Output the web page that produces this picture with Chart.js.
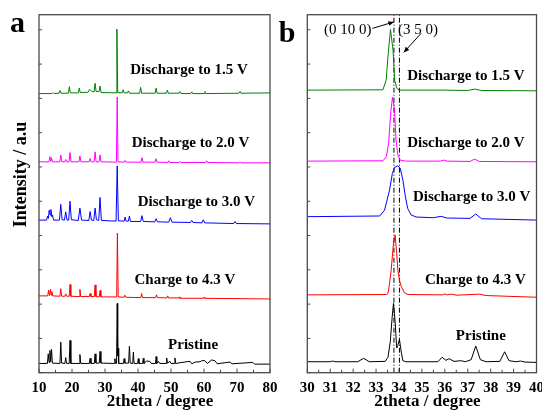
<!DOCTYPE html>
<html><head><meta charset="utf-8">
<script src="https://cdn.jsdelivr.net/npm/chart.js@4"></script>
<style>
html,body{margin:0;padding:0;background:#fff;width:542px;height:411px;overflow:hidden;position:relative}
#ca{position:absolute;left:0;top:0}
#cb{position:absolute;left:270px;top:0}
</style></head><body>
<canvas id="ca" width="290" height="411"></canvas>
<canvas id="cb" width="280" height="411"></canvas>
<script>
// ---------- DATA (2theta in degrees, stacked intensity in a.u.) ----------
const seriesNames = ['Discharge to 1.5 V','Discharge to 2.0 V','Discharge to 3.0 V','Charge to 4.3 V','Pristine'];
const seriesColors = ['#008000','#ff00ff','#0000ff','#ff0000','#000000'];

// Panel a: 10-80 degrees
const xTicksA = [10,20,30,40,50,60,70,80];
const xMinorA = [15,25,35,45,55,65,75];
const greenA = [[10,8.14],[14.0,8.14],[14.3,8.17],[14.6,8.14],[16.1,8.15],[16.4,8.23],[16.7,8.15],[18.9,8.15],[19.2,8.34],[19.5,8.16],[21.9,8.16],[22.2,8.30],[22.5,8.17],[24.9,8.18],[25.3,8.26],[25.6,8.24],[26.0,8.2],[26.7,8.19],[27.0,8.44],[27.3,8.2],[28.2,8.2],[28.5,8.36],[28.8,8.17],[33.35,8.16],[33.6,10.02],[33.85,8.17],[35.2,8.16],[35.5,8.25],[35.8,8.16],[36.8,8.16],[37.1,8.22],[37.4,8.15],[40.5,8.15],[40.8,8.32],[41.1,8.15],[45.2,8.15],[45.5,8.30],[45.8,8.15],[48.6,8.15],[48.9,8.24],[49.2,8.15],[52.4,8.15],[52.7,8.2],[53.0,8.14],[56.0,8.14],[56.3,8.19],[56.6,8.14],[60.0,8.14],[60.3,8.2],[60.6,8.14],[70.6,8.15],[70.9,8.2],[71.2,8.15],[80,8.16]];
const pinkA = [[10,6.15],[13.0,6.15],[13.3,6.30],[13.55,6.16],[13.8,6.27],[14.1,6.15],[16.3,6.15],[16.6,6.35],[16.9,6.15],[17.8,6.15],[18.1,6.22],[18.4,6.15],[19.1,6.15],[19.4,6.42],[19.7,6.15],[22.1,6.15],[22.4,6.32],[22.7,6.15],[25.2,6.15],[25.5,6.25],[25.8,6.15],[26.7,6.15],[27.0,6.44],[27.3,6.15],[28.2,6.15],[28.5,6.35],[28.8,6.15],[33.45,6.14],[33.7,8.04],[33.95,6.15],[35.8,6.14],[36.1,6.19],[36.4,6.14],[40.9,6.14],[41.2,6.27],[41.5,6.14],[45.2,6.14],[45.5,6.24],[45.8,6.14],[49.0,6.13],[49.3,6.18],[49.6,6.13],[52.5,6.13],[52.8,6.16],[53.1,6.13],[60.5,6.13],[60.8,6.18],[61.1,6.13],[70.6,6.12],[70.9,6.15],[71.2,6.12],[80,6.12]];
const blueA = [[10,4.45],[12.3,4.45],[12.6,4.57],[12.85,4.5],[13.1,4.74],[13.35,4.6],[13.6,4.76],[13.85,4.55],[14.1,4.6],[14.4,4.45],[16.2,4.45],[16.6,4.91],[17.0,4.46],[17.7,4.45],[18.1,4.69],[18.5,4.45],[19.0,4.45],[19.4,5.0],[19.8,4.46],[21.9,4.44],[22.4,4.80],[22.9,4.45],[25.1,4.44],[25.5,4.70],[25.9,4.45],[26.6,4.44],[27.0,4.80],[27.4,4.46],[28.1,4.44],[28.5,5.11],[28.9,4.44],[33.35,4.42],[33.7,6.03],[34.05,4.43],[35.8,4.42],[36.1,4.54],[36.4,4.42],[37.1,4.42],[37.4,4.57],[37.7,4.41],[40.8,4.41],[41.2,4.58],[41.6,4.41],[45.1,4.40],[45.5,4.49],[45.9,4.40],[49.3,4.39],[49.8,4.52],[50.3,4.39],[55.9,4.38],[56.3,4.44],[56.7,4.38],[59.4,4.37],[59.8,4.46],[60.2,4.37],[69.0,4.35],[69.4,4.41],[69.8,4.35],[80,4.34]];
const redA = [[10,2.24],[12.65,2.24],[12.9,2.41],[13.15,2.25],[13.5,2.43],[13.7,2.26],[13.9,2.36],[14.15,2.24],[16.35,2.23],[16.6,2.45],[16.85,2.23],[17.85,2.23],[18.1,2.30],[18.35,2.23],[19.15,2.23],[19.4,2.57],[19.65,2.23],[22.15,2.22],[22.4,2.43],[22.65,2.22],[25.25,2.22],[25.5,2.31],[25.75,2.22],[26.75,2.22],[27.0,2.56],[27.25,2.22],[28.25,2.21],[28.5,2.40],[28.75,2.21],[33.55,2.21],[33.75,4.07],[34.0,2.21],[35.75,2.2],[36.0,2.26],[36.25,2.2],[40.85,2.19],[41.1,2.31],[41.35,2.19],[45.35,2.19],[45.6,2.27],[45.85,2.19],[48.75,2.18],[49.0,2.24],[49.25,2.18],[52.3,2.18],[52.5,2.21],[52.7,2.17],[59.8,2.17],[60.0,2.2],[60.2,2.17],[80,2.15]];
const blackA = [[10,0.27],[12.55,0.27],[12.8,0.55],[13.05,0.3],[13.3,0.65],[13.55,0.32],[13.8,0.68],[14.05,0.28],[16.35,0.27],[16.6,0.89],[16.85,0.28],[17.85,0.27],[18.1,0.44],[18.35,0.27],[19.15,0.27],[19.4,0.94],[19.65,0.27],[22.15,0.27],[22.4,0.53],[22.65,0.27],[25.25,0.27],[25.5,0.42],[25.75,0.27],[26.75,0.27],[27.0,0.55],[27.25,0.28],[28.25,0.28],[28.5,0.62],[28.75,0.28],[32.8,0.27],[33.0,0.41],[33.2,0.27],[33.5,0.27],[33.7,2.02],[33.85,0.5],[33.95,0.71],[34.15,0.27],[35.6,0.27],[35.8,0.41],[36.0,0.28],[37.15,0.28],[37.4,0.77],[37.65,0.28],[38.4,0.27],[38.6,0.6],[38.8,0.27],[39.9,0.27],[40.1,0.41],[40.3,0.27],[41.4,0.27],[41.6,0.42],[41.8,0.27],[42.6,0.34],[43.6,0.33],[44.0,0.27],[45.3,0.27],[45.5,0.47],[45.7,0.27],[46.2,0.33],[46.6,0.27],[48.5,0.27],[48.7,0.43],[48.9,0.28],[49.7,0.33],[50.0,0.27],[51.0,0.27],[51.2,0.43],[51.4,0.27],[54.8,0.32],[55.8,0.33],[56.3,0.26],[57.3,0.31],[58.8,0.32],[59.3,0.35],[60.3,0.35],[61.0,0.27],[62.3,0.37],[63.3,0.35],[64.0,0.26],[67.9,0.31],[68.5,0.26],[74.8,0.3],[75.3,0.25],[80,0.25]];

// Panel b: 30-40 degrees
const xTicksB = [30,31,32,33,34,35,36,37,38,39,40];
const xMinorB = [30.5,31.5,32.5,33.5,34.5,35.5,36.5,37.5,38.5,39.5];
const greenB = [[30,8.24],[33.3,8.25],[33.44,8.53],[33.53,9.31],[33.63,10.01],[33.74,9.41],[33.81,8.53],[33.91,8.29],[34.02,8.24],[36.0,8.24],[37.0,8.23],[37.3,8.27],[37.6,8.23],[40,8.22]];
const pinkB = [[30,6.17],[33.3,6.18],[33.45,6.30],[33.55,6.70],[33.64,7.6],[33.72,8.03],[33.8,7.7],[33.87,6.8],[33.95,6.35],[34.05,6.2],[34.3,6.17],[35.8,6.17],[35.95,6.2],[36.1,6.17],[37.1,6.16],[37.3,6.23],[37.5,6.16],[40,6.15]];
const blueB = [[30,4.55],[33.16,4.57],[33.37,4.74],[33.59,5.33],[33.71,5.81],[33.81,5.99],[33.95,6.03],[34.05,5.97],[34.17,5.62],[34.28,5.13],[34.38,4.79],[34.53,4.6],[34.75,4.54],[35.5,4.52],[35.83,4.56],[36.1,4.51],[37.1,4.5],[37.35,4.63],[37.6,4.49],[40,4.45]];
const redB = [[30,2.27],[33.45,2.28],[33.52,2.31],[33.59,2.61],[33.66,3.0],[33.75,3.7],[33.83,4.02],[33.9,3.5],[33.95,3.0],[34.02,2.7],[34.1,2.51],[34.24,2.33],[34.4,2.28],[35.9,2.27],[36.0,2.3],[36.1,2.27],[36.3,2.29],[36.5,2.26],[37.5,2.29],[37.8,2.25],[40,2.2]];
const blackB = [[30,0.32],[31.0,0.32],[31.1,0.34],[31.2,0.32],[32.2,0.32],[32.46,0.42],[32.7,0.32],[33.4,0.33],[33.52,0.45],[33.62,0.9],[33.7,1.6],[33.76,2.02],[33.83,1.5],[33.9,0.72],[33.95,0.8],[34.02,0.97],[34.1,0.6],[34.17,0.35],[34.3,0.32],[35.7,0.32],[35.88,0.45],[36.05,0.36],[36.19,0.41],[36.4,0.33],[36.7,0.35],[36.9,0.32],[37.15,0.38],[37.35,0.78],[37.55,0.38],[37.8,0.32],[38.4,0.33],[38.61,0.61],[38.8,0.35],[39.1,0.32],[39.3,0.34],[39.5,0.31],[40,0.3]];

const refLinesB = [33.78, 34.02];          // (0 10 0) and (3 5 0)
const yTicks = [0,1,2,3,4,5,6,7,8,9,10];
const yMax = 10.44;

const labelPosA = [[55.45,8.83],[55.9,6.70],[57.7,4.96],[54.2,2.70],[56.7,0.81]];
const labelPosB = [[36.92,8.65],[36.92,6.69],[37.17,5.11],[37.33,2.70],[37.57,1.07]];
const hklText = ['(0 10 0)','(3 5 0)'];
const hklPos = [[31.77,9.99],[34.83,9.99]];
const hklArrows = [[32.84,10.04,33.78,10.23],[34.97,9.90,34.21,9.34]];

// ---------- RENDERING ----------
const SERIF = '"Liberation Serif","Times New Roman",serif';
const toXY = arr => arr.map(p => ({x:p[0], y:p[1]}));

function overlay(cfg){
  return {
    id:'overlay',
    afterDraw(chart){
      const ctx = chart.ctx, a = chart.chartArea, xs = chart.scales.x, ys = chart.scales.y;
      ctx.save();
      ctx.strokeStyle = '#4a4a4a'; ctx.lineWidth = 1.3;
      ctx.strokeRect(a.left, a.top, a.right - a.left, a.bottom - a.top);
      ctx.lineWidth = 1;
      ctx.beginPath();
      cfg.xMajor.forEach(v => { const p = xs.getPixelForValue(v); ctx.moveTo(p, a.bottom); ctx.lineTo(p, a.bottom - 4); });
      cfg.xMinor.forEach(v => { const p = xs.getPixelForValue(v); ctx.moveTo(p, a.bottom); ctx.lineTo(p, a.bottom - 3); });
      yTicks.forEach(v => { const p = ys.getPixelForValue(v); ctx.moveTo(a.left, p); ctx.lineTo(a.left + 3, p); });
      ctx.stroke();
      ctx.fillStyle = '#000';
      ctx.font = 'bold 15px ' + SERIF; ctx.textAlign = 'center'; ctx.textBaseline = 'middle';
      cfg.labels.forEach((l, i) => ctx.fillText(seriesNames[i], xs.getPixelForValue(l[0]), ys.getPixelForValue(l[1])));
      // x title
      ctx.font = 'bold 17px ' + SERIF; ctx.textBaseline = 'alphabetic';
      ctx.fillText('2theta / degree', (a.left + a.right) / 2 + 5.5, 406);
      // panel letter
      ctx.font = 'bold 30px ' + SERIF; ctx.textAlign = 'center';
      ctx.fillText(cfg.letter, cfg.letterX, cfg.letterY);
      if (cfg.yTitle) {
        ctx.save();
        ctx.translate(21, 174.5); ctx.rotate(-Math.PI / 2);
        ctx.font = 'bold 18px ' + SERIF; ctx.textBaseline = 'middle';
        ctx.fillText(cfg.yTitle, 0, 0);
        ctx.restore();
      }
      if (cfg.hkl) {
        ctx.font = '15px ' + SERIF; ctx.textBaseline = 'middle'; ctx.textAlign = 'center';
        hklText.forEach((t, i) => ctx.fillText(t, xs.getPixelForValue(hklPos[i][0]), ys.getPixelForValue(hklPos[i][1])));
        ctx.strokeStyle = '#000'; ctx.lineWidth = 1;
        hklArrows.forEach(r => {
          const x1 = xs.getPixelForValue(r[0]), y1 = ys.getPixelForValue(r[1]);
          const x2 = xs.getPixelForValue(r[2]), y2 = ys.getPixelForValue(r[3]);
          ctx.beginPath(); ctx.moveTo(x1, y1); ctx.lineTo(x2, y2); ctx.stroke();
          const ang = Math.atan2(y2 - y1, x2 - x1), L = 6, w = 0.4;
          ctx.beginPath();
          ctx.moveTo(x2, y2);
          ctx.lineTo(x2 - L * Math.cos(ang - w), y2 - L * Math.sin(ang - w));
          ctx.lineTo(x2 - L * Math.cos(ang + w), y2 - L * Math.sin(ang + w));
          ctx.closePath(); ctx.fill();
        });
      }
      ctx.restore();
    }
  };
}

function makeChart(id, series, xMin, xMax, xTicks, extraSets, yAxisWidth, padRight, cfg){
  const datasets = series.map((s, i) => ({
    data: toXY(s), borderColor: seriesColors[i], borderWidth: 1, pointRadius: 0, tension: 0, fill: false
  })).concat(extraSets);
  return new Chart(document.getElementById(id), {
    type: 'line',
    data: { datasets },
    options: {
      responsive: false, animation: false, devicePixelRatio: 1,
      layout: { padding: { top: 14.7, right: padRight, left: 0, bottom: 0 } },
      plugins: { legend: { display: false }, tooltip: { enabled: false } },
      scales: {
        x: {
          type: 'linear', min: xMin, max: xMax,
          afterBuildTicks: sc => { sc.ticks = xTicks.map(v => ({ value: v })); },
          afterFit: sc => { sc.height = 38.3; },
          grid: { display: false, drawTicks: false },
          border: { display: false },
          ticks: { color: '#000', padding: 6, maxRotation: 0, autoSkip: false, font: { family: SERIF, size: 15, weight: 'bold' } }
        },
        y: {
          type: 'linear', min: 0, max: yMax,
          afterFit: sc => { sc.width = yAxisWidth; },
          grid: { display: false, drawTicks: false },
          border: { display: false },
          ticks: { display: false }
        }
      }
    },
    plugins: [overlay(cfg)]
  });
}

makeChart('ca', [greenA, pinkA, blueA, redA, blackA], 10, 80, xTicksA, [], 39, 20,
  { xMajor: xTicksA, xMinor: xMinorA, labels: labelPosA, letter: 'a', letterX: 17.5, letterY: 31.7, yTitle: 'Intensity / a.u' });

const refSets = refLinesB.map(v => ({
  data: [{x: v, y: 0}, {x: v, y: yMax}], borderColor: '#000', borderWidth: 1, pointRadius: 0, borderDash: [5, 2, 1, 2], fill: false
}));
makeChart('cb', [greenB, pinkB, blueB, redB, blackB], 30, 40, xTicksB, refSets, 37.3, 12.3,
  { xMajor: xTicksB, xMinor: xMinorB, labels: labelPosB, letter: 'b', letterX: 17, letterY: 41.7, hkl: true });
</script>
</body></html>
